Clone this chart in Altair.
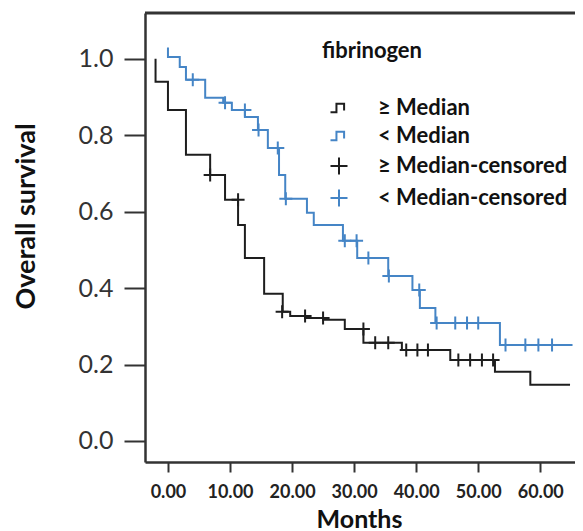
import altair as alt
import pandas as pd

# Kaplan-Meier steps (months, survival)
black_t = [-2.0, -2.0, 0.0, 2.9, 6.8, 9.2, 11.3, 12.4, 15.5, 18.5, 19.7, 22.1, 25.0, 28.5, 31.5, 37.7, 45.5, 52.7, 58.4, 64.8]
black_s = [1.0, 0.94, 0.866, 0.749, 0.696, 0.631, 0.565, 0.479, 0.385, 0.338, 0.327, 0.322, 0.317, 0.293, 0.257, 0.238, 0.212, 0.181, 0.147, 0.147]

blue_t = [0.0, 0.0, 1.9, 2.9, 6.0, 8.9, 10.3, 12.4, 14.5, 16.1, 17.9, 18.9, 22.4, 23.5, 28.2, 30.5, 35.5, 39.4, 40.6, 43.1, 53.5, 65.2]
blue_s = [1.03, 1.005, 0.979, 0.945, 0.898, 0.885, 0.866, 0.848, 0.814, 0.767, 0.696, 0.634, 0.597, 0.565, 0.524, 0.479, 0.432, 0.395, 0.348, 0.309, 0.251, 0.251]

black_cens_t = [6.8, 11.3, 18.4, 22.1, 25.0, 31.5, 33.4, 35.5, 38.4, 40.2, 41.9, 46.8, 48.7, 50.6, 52.4]
black_cens_s = [0.696, 0.631, 0.338, 0.327, 0.322, 0.293, 0.257, 0.257, 0.238, 0.238, 0.238, 0.212, 0.212, 0.212, 0.212]

blue_cens_t = [4.0, 9.2, 12.4, 14.6, 17.7, 19.0, 28.5, 30.4, 32.3, 35.6, 40.5, 43.3, 46.3, 48.2, 50.0, 54.4, 57.6, 59.7, 61.9]
blue_cens_s = [0.945, 0.885, 0.866, 0.814, 0.767, 0.634, 0.524, 0.524, 0.479, 0.432, 0.395, 0.309, 0.309, 0.309, 0.309, 0.251, 0.251, 0.251, 0.251]

labels = ["≥ Median", "< Median", "≥  Median-censored", "< Median-censored"]
colors = ["#1e1e1e", "#4585c6", "#1e1e1e", "#4585c6"]
x_ticks = [0, 10, 20, 30, 40, 50, 60]
y_ticks = [0.0, 0.2, 0.4, 0.6, 0.8, 1.0]

step_sym = "M-1,0.5L-0.3,0.5L-0.3,-0.5L0.6,-0.5L0.6,0.3"
plus_sym = "M-1,0L1,0M0,-1L0,1"
shapes = [step_sym, step_sym, plus_sym, plus_sym]

lines_df = pd.concat([
    pd.DataFrame({"t": black_t, "s": black_s, "grp": labels[0], "col": colors[0], "i": range(len(black_t))}),
    pd.DataFrame({"t": blue_t, "s": blue_s, "grp": labels[1], "col": colors[1], "i": range(len(blue_t))}),
], ignore_index=True)

cens_df = pd.concat([
    pd.DataFrame({"t": black_cens_t, "s": black_cens_s, "grp": labels[2]}),
    pd.DataFrame({"t": blue_cens_t, "s": blue_cens_s, "grp": labels[3]}),
], ignore_index=True)

xs = alt.Scale(domain=[-3.7, 65.6], nice=False, zero=False)
ys = alt.Scale(domain=[-0.055, 1.12], nice=False, zero=False)

FONT = "Lato"

y_axis = alt.Axis(
    values=y_ticks, format=".1f", grid=False,
    labelFont=FONT, labelFontSize=25, labelColor="#333", labelPadding=11,
    tickSize=21, tickWidth=2, tickColor="#333",
    domainColor="#333", domainWidth=2.5,
    title="Overall survival", titleFont=FONT, titleFontSize=27, titleFontWeight="bold",
    titleColor="#111", titleX=-119, titleY=203, titleBaseline="middle", titleAlign="center",
)
x_axis = alt.Axis(
    values=x_ticks, format=".2f", grid=False,
    labelFont=FONT, labelFontSize=18, labelFontWeight="bold", labelColor="#222", labelPadding=11,
    tickSize=10, tickWidth=2, tickColor="#333",
    domainColor="#333", domainWidth=2.5,
    title="Months", titleFont=FONT, titleFontSize=25, titleFontWeight="bold",
    titleColor="#111", titleX=214, titleY=65, titleBaseline="alphabetic", titleAlign="center",
)

legend = alt.Legend(
    title="fibrinogen", orient="none", legendX=177, legendY=28, padding=0,
    titleFont=FONT, titleFontSize=22, titleFontWeight="bold", titleColor="#111", titlePadding=34,
    labelFont=FONT, labelFontSize=22, labelFontWeight="bold", labelColor="#111", labelLimit=400,
    symbolSize=289, symbolStrokeWidth=2, symbolOffset=6, labelOffset=28, rowPadding=6,
)

lines = alt.Chart(lines_df).mark_line(interpolate="step-after", strokeWidth=2).encode(
    x=alt.X("t:Q", scale=xs, axis=x_axis),
    y=alt.Y("s:Q", scale=ys, axis=y_axis),
    color=alt.Color("col:N", scale=None),
    detail="grp:N",
    order="i:Q",
)

points = alt.Chart(cens_df).mark_point(filled=False, strokeWidth=2, size=169, opacity=1).encode(
    x=alt.X("t:Q", scale=xs, axis=x_axis),
    y=alt.Y("s:Q", scale=ys, axis=y_axis),
    color=alt.Color("grp:N", scale=alt.Scale(domain=labels, range=colors), legend=legend),
    shape=alt.Shape("grp:N", scale=alt.Scale(domain=labels, range=shapes), legend=legend),
)

# top frame line of the plot box
frame = alt.Chart(pd.DataFrame({"k": [0]})).mark_rule(color="#333", strokeWidth=3).encode(
    x=alt.value(0), x2=alt.value("width"), y=alt.value(0)
)

chart = alt.layer(lines, points, frame).properties(
    width=430, height=449,
    autosize=alt.AutoSizeParams(type="none"),
    padding={"left": 137, "top": 5, "right": 0, "bottom": 69},
).configure_view(stroke="transparent").configure(background="white")

chart.save("out.html", embed_options={"renderer": "svg", "actions": False})
